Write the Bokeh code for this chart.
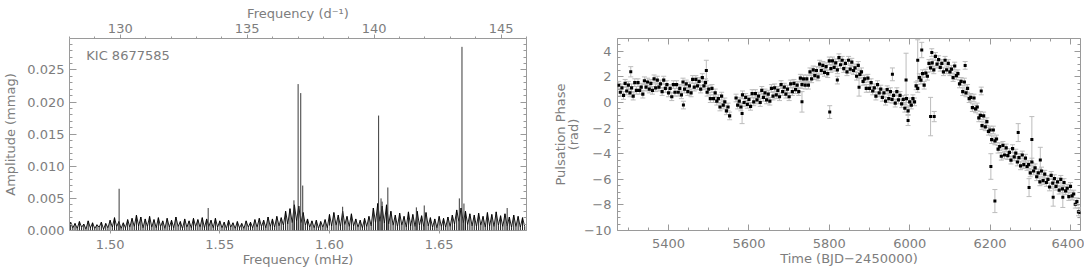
import numpy as np
from bokeh.plotting import figure
from bokeh.layouts import row
from bokeh.models import (Range1d, LinearAxis, SingleIntervalTicker, Whisker, TeeHead,
                          ColumnDataSource, CustomJSTickFormatter, PrintfTickFormatter, Label)
from bokeh.embed import file_html
from bokeh.resources import INLINE

# ---------------- Left panel: amplitude spectrum ----------------
freq_start = 1.482          # mHz, first noise sample
freq_step = 0.001           # mHz
noise_amp = [
    0.0013, 0.0004, 0.0011, 0.0003, 0.0014, 0.0005, 0.0010, 0.0002, 0.0015, 0.0004, 0.0012, 0.0003, 0.0009, 0.0005, 0.0013, 0.0002, 0.0011, 0.0004,
    0.0016, 0.0005, 0.0020, 0.0006, 0.0014, 0.0003, 0.0012, 0.0004, 0.0017, 0.0005,
    0.0019, 0.0006, 0.0024, 0.0007, 0.0021, 0.0004, 0.0018, 0.0006, 0.0022, 0.0005,
    0.0017, 0.0004, 0.0020, 0.0006, 0.0015, 0.0003, 0.0019, 0.0005, 0.0016, 0.0004, 0.0021, 0.0006, 0.0014, 0.0003, 0.0018, 0.0005, 0.0015, 0.0004, 0.0019, 0.0006,
    0.0017, 0.0005, 0.0020, 0.0004, 0.0018, 0.0006, 0.0016, 0.0004, 0.0019, 0.0005,
    0.0015, 0.0004, 0.0013, 0.0003, 0.0016, 0.0005, 0.0012, 0.0003, 0.0014, 0.0004, 0.0011, 0.0003, 0.0015, 0.0005, 0.0013,
    0.0004, 0.0017, 0.0005, 0.0019, 0.0006, 0.0016, 0.0004, 0.0021, 0.0006, 0.0018, 0.0005, 0.0022, 0.0007, 0.0020, 0.0008,
    0.0030, 0.0010, 0.0034, 0.0012, 0.0040, 0.0015, 0.0038, 0.0012, 0.0028, 0.0008,
    0.0018, 0.0005, 0.0015, 0.0004, 0.0016, 0.0003, 0.0014, 0.0005, 0.0017, 0.0004,
    0.0025, 0.0007, 0.0028, 0.0008, 0.0024, 0.0006, 0.0030, 0.0009, 0.0022, 0.0006, 0.0026, 0.0007,
    0.0018, 0.0005, 0.0016, 0.0004, 0.0019, 0.0006, 0.0022, 0.0007,
    0.0035, 0.0012, 0.0042, 0.0014, 0.0038, 0.0011, 0.0040, 0.0010, 0.0030,
    0.0008, 0.0024, 0.0006, 0.0027, 0.0008, 0.0022, 0.0005, 0.0029, 0.0007, 0.0025, 0.0006, 0.0030, 0.0008, 0.0023, 0.0006, 0.0028, 0.0007,
    0.0020, 0.0005, 0.0018, 0.0004, 0.0022, 0.0006, 0.0019, 0.0005, 0.0021, 0.0006, 0.0024,
    0.0010, 0.0032, 0.0014, 0.0035, 0.0012, 0.0030, 0.0009, 0.0026,
    0.0007, 0.0024, 0.0006, 0.0027, 0.0008, 0.0022, 0.0005, 0.0028, 0.0007, 0.0025, 0.0006, 0.0029, 0.0008, 0.0023, 0.0006, 0.0026, 0.0007, 0.0021, 0.0005, 0.0024, 0.0006, 0.0022, 0.0005, 0.0020, 0.0006,
]
peak_freq = [1.5041, 1.5447, 1.5838, 1.5857, 1.5869, 1.5878, 1.6060, 1.6224, 1.6235, 1.6240,
             1.6266, 1.6396, 1.6432, 1.6592, 1.6604, 1.6613, 1.6810]
peak_amp = [0.0065, 0.0035, 0.0047, 0.0228, 0.0214, 0.0070, 0.0037, 0.0179, 0.0050, 0.0045,
            0.0067, 0.0036, 0.0039, 0.0050, 0.0286, 0.0042, 0.0035]
star_name = "KIC 8677585"
mhz_to_cpd = 86.4           # 1 mHz = 86.4 d^-1
freq_range_cpd = (128.0, 146.0)

# ---------------- Right panel: pulsation phase ----------------
seg1_start, seg1_end = 5276, 5552
seg2_start, seg2_end = 5568, 6420
time_step = 4
phase_seg1 = [
    1.35, 0.8, 1.15, 0.55, 1.5, 0.9, 1.35, 0.75, 1.15, 0.5, 1.55, 0.95, 1.55, 0.95, 1.2, 0.65, 1.7, 1.2, 1.6, 1.05,
    1.5, 0.95, 1.85, 1.15, 1.75, 1.2, 1.45, 0.85, 1.75, 1.1, 1.4, 0.75, 1.1, 0.45, 1.4, 0.8, 1.4, 0.8, 1.1, 0.6,
    1.6, 1.05, 1.45, 0.85, 1.3, 0.75, 1.8, 1.2, 1.8, 1.3, 1.65, 1.05, 1.95, 1.3, 1.55, 0.8, 1.05, 0.3, 1.1, 0.3,
    0.75, 0.1, 0.3, -0.35, 0.5, -0.2, 0.05, -0.65, -0.35, -1.05,
]
phase_seg2 = [
    0.35, -0.2, 0.1, -0.35, 0.6, 0.0, 0.4, -0.15, 0.25, -0.3, 0.7, 0.05, 0.7, 0.2, 0.5, 0.0, 0.95, 0.4, 0.75, 0.2,
    0.65, 0.1, 1.1, 0.5, 1.15, 0.6, 0.95, 0.45, 1.4, 0.85, 1.2, 0.65, 1.05, 0.45, 1.45, 0.85, 1.5, 1.0, 1.35, 0.85,
    1.9, 1.4, 1.85, 1.35, 1.85, 1.35, 2.4, 1.85, 2.55, 2.1, 2.5, 2.0, 3.0, 2.5, 2.9, 2.35, 2.8, 2.25, 3.25, 2.65,
    3.25, 2.75, 3.1, 2.55, 3.5, 2.95, 3.3, 2.65, 3.05, 2.4, 3.3, 2.6, 3.15, 2.5, 2.7, 2.05, 2.9, 2.2, 2.4, 1.65,
    1.85, 1.1, 1.9, 1.1, 1.55, 0.9, 1.15, 0.5, 1.4, 0.75, 1.05, 0.4, 0.75, 0.1, 1.0, 0.3, 0.85, 0.25, 0.55, -0.05,
    0.85, 0.2, 0.55, -0.1, 0.25, -0.45, 0.3, -0.65, 0.05, -0.2, 0.3, 0.05, 1.3, 1.1, 1.95, 1.75, 2.25, 1.35, 2.3, 2.05,
    3.05, 2.7, 3.1, 2.55, 3.6, 3.0, 3.35, 2.75, 3.05, 2.4, 3.3, 2.55, 3.05, 2.4, 2.6, 1.95, 2.85, 2.1, 2.25, 1.45,
    1.65, 0.85, 1.6, 0.75, 1.1, 0.3, 0.4, -0.4, 0.35, -0.5, -0.35, -1.2, -1.0, -1.8, -1.05, -1.9, -1.5, -2.25, -2.15, -2.9,
    -2.15, -3.0, -2.85, -3.65, -3.45, -4.2, -3.35, -4.1, -3.55, -4.15, -3.9, -4.5, -3.6, -4.25, -3.95, -4.65, -4.3, -4.95, -4.1, -4.85,
    -4.35, -5.0, -4.85, -5.5, -4.65, -5.35, -5.1, -5.8, -5.5, -6.2, -5.35, -6.1, -5.6, -6.25, -6.0, -6.6, -5.7, -6.3, -5.95, -6.55,
    -6.2, -6.85, -6.0, -6.75, -6.25, -6.9, -6.7, -7.35, -6.55, -7.3, -7.15, -7.95, -7.75, -8.55,
]
phase_err = 0.3             # typical 1-sigma error (rad)
out_t = [5306, 5437, 5494, 5583, 5732, 5801, 5820, 5874, 5957, 5991, 5996, 6020, 6030, 6052,
         6055, 6061, 6138, 6178, 6202, 6212, 6270, 6297, 6304, 6325, 6357, 6381, 6424]
out_ph = [2.4, -0.2, 2.5, -0.85, 0.05, -0.75, 1.75, 1.2, 2.2, 1.75, -1.4, 3.3, 4.1, -1.1,
          3.9, -1.1, 2.9, 0.9, -5.0, -7.7, -2.35, -6.65, -2.9, -4.5, -7.4, -7.4, -8.6]
out_err = [0.4, 0.3, 0.8, 0.8, 0.8, 0.5, 0.3, 0.7, 0.5, 2.1, 0.4, 1.6, 0.6, 1.5,
           0.3, 0.4, 0.3, 0.3, 1.0, 0.9, 0.7, 0.7, 1.8, 1.0, 0.7, 0.8, 0.4]

# ---------------- styling ----------------
FONT = "DejaVu Sans"
TXT = "#7d7d7d"
FRAME = "#9a9a9a"
FS = "13px"


def style_axis(ax, tin, tout, mtin, mtout):
    ax.axis_line_color = None
    ax.major_tick_line_color = FRAME
    ax.minor_tick_line_color = FRAME
    ax.major_tick_in = tin
    ax.major_tick_out = tout
    ax.minor_tick_in = mtin
    ax.minor_tick_out = mtout
    ax.major_label_text_font = FONT
    ax.major_label_text_font_size = FS
    ax.major_label_text_color = TXT
    ax.axis_label_text_font = FONT
    ax.axis_label_text_font_size = FS
    ax.axis_label_text_font_style = "normal"
    ax.axis_label_text_color = TXT


blank = CustomJSTickFormatter(code="return '';")

# Left figure
x_lo = freq_range_cpd[0] / mhz_to_cpd
x_hi = freq_range_cpd[1] / mhz_to_cpd
p1 = figure(width=540, height=275, x_range=Range1d(x_lo, x_hi), y_range=Range1d(0, 0.0299),
            output_backend="svg", toolbar_location=None,
            min_border_left=63, min_border_right=14, min_border_top=34, min_border_bottom=40)
p1.grid.visible = False
p1.outline_line_color = FRAME
p1.background_fill_color = "white"
p1.border_fill_color = "white"

nfreq = np.round(freq_start + freq_step * np.arange(len(noise_amp)), 4)
p1.segment(x0=nfreq, y0=np.zeros(len(nfreq)), x1=nfreq, y1=noise_amp,
           line_color="#1a1a1a", line_width=1)
p1.line(nfreq, noise_amp, line_color="black", line_width=0.9)
p1.segment(x0=peak_freq, y0=[0] * len(peak_freq), x1=peak_freq, y1=peak_amp,
           line_color="#3a3a3a", line_width=1)

p1.xaxis.ticker = SingleIntervalTicker(interval=0.05, num_minor_ticks=5)
p1.xaxis.formatter = PrintfTickFormatter(format="%.2f")
p1.xaxis.axis_label = "Frequency (mHz)"
style_axis(p1.xaxis[0], 5, 3, 0, 0)
p1.xaxis.major_label_standoff = 6
p1.xaxis.axis_label_standoff = 0

p1.yaxis.ticker = SingleIntervalTicker(interval=0.005, num_minor_ticks=5)
p1.yaxis.formatter = PrintfTickFormatter(format="%.3f")
p1.yaxis.axis_label = "Amplitude (mmag)"
style_axis(p1.yaxis[0], 7, 0, 3, 0)
p1.yaxis.major_label_standoff = 5
p1.yaxis.axis_label_standoff = 6

p1.extra_x_ranges = {"cpd": Range1d(*freq_range_cpd)}
top1 = LinearAxis(x_range_name="cpd", axis_label="Frequency (d⁻¹)",
                  ticker=SingleIntervalTicker(interval=5, num_minor_ticks=5))
style_axis(top1, 0, 4, 0, 2)
top1.major_label_standoff = 2
top1.axis_label_standoff = 0
p1.add_layout(top1, "above")

right1 = LinearAxis(ticker=SingleIntervalTicker(interval=0.005, num_minor_ticks=5), formatter=blank)
style_axis(right1, 6, 0, 3, 0)
right1.major_label_standoff = 0
p1.add_layout(right1, "right")

p1.add_layout(Label(x=x_lo + 17 / 2220, y=0.0272, text=star_name, text_font=FONT,
                    text_font_size=FS, text_color=TXT, text_baseline="middle"))

# Right figure
p2 = figure(width=544, height=275, x_range=Range1d(5273, 6425), y_range=Range1d(-10, 5),
            output_backend="svg", toolbar_location=None,
            min_border_left=77, min_border_right=4, min_border_top=38, min_border_bottom=45)
p2.grid.visible = False
p2.outline_line_color = FRAME
p2.background_fill_color = "white"
p2.border_fill_color = "white"

t1 = np.arange(seg1_start, seg1_end + 1, time_step)
t2 = np.arange(seg2_start, seg2_end + 1, time_step)
t_all = np.concatenate([t1, t2]).astype(float)
ph_all = np.array(phase_seg1 + phase_seg2)
src = ColumnDataSource(dict(t=t_all, ph=ph_all, lo=ph_all - phase_err, hi=ph_all + phase_err))
osrc = ColumnDataSource(dict(t=out_t, ph=out_ph,
                             lo=np.array(out_ph) - np.array(out_err),
                             hi=np.array(out_ph) + np.array(out_err)))
ECOL = "#bcbcbc"
for s in (src, osrc):
    p2.add_layout(Whisker(source=s, base="t", lower="lo", upper="hi", dimension="height",
                          line_color=ECOL, line_width=1,
                          upper_head=TeeHead(size=5, line_color=ECOL, line_width=1),
                          lower_head=TeeHead(size=5, line_color=ECOL, line_width=1)))
p2.scatter("t", "ph", source=src, marker="square", size=3.2, color="black", line_width=0)
p2.scatter("t", "ph", source=osrc, marker="square", size=3.0, color="black", line_width=0)

minus_fmt = CustomJSTickFormatter(code="return tick < 0 ? '\u2212' + Math.abs(tick) : String(tick);")
p2.xaxis.ticker = SingleIntervalTicker(interval=200, num_minor_ticks=4)
p2.xaxis.axis_label = "Time (BJD\u22122450000)"
style_axis(p2.xaxis[0], 6, 0, 3, 0)
p2.xaxis.major_label_standoff = 8
p2.xaxis.axis_label_standoff = 0

p2.yaxis.ticker = SingleIntervalTicker(interval=2, num_minor_ticks=4)
p2.yaxis.formatter = minus_fmt
p2.yaxis.axis_label = "Pulsation Phase\n(rad)"
style_axis(p2.yaxis[0], 6, 0, 3, 0)
p2.yaxis.axis_label_text_line_height = 0.9
p2.yaxis.major_label_standoff = 6
p2.yaxis.axis_label_standoff = 0

top2 = LinearAxis(ticker=SingleIntervalTicker(interval=200, num_minor_ticks=4), formatter=blank)
style_axis(top2, 6, 0, 3, 0)
top2.major_label_standoff = 0
p2.add_layout(top2, "above")
right2 = LinearAxis(ticker=SingleIntervalTicker(interval=2, num_minor_ticks=4), formatter=blank)
style_axis(right2, 6, 0, 3, 0)
right2.major_label_standoff = 0
p2.add_layout(right2, "right")

layout = row(p1, p2)
open("out.html", "w").write(file_html(layout, INLINE))
